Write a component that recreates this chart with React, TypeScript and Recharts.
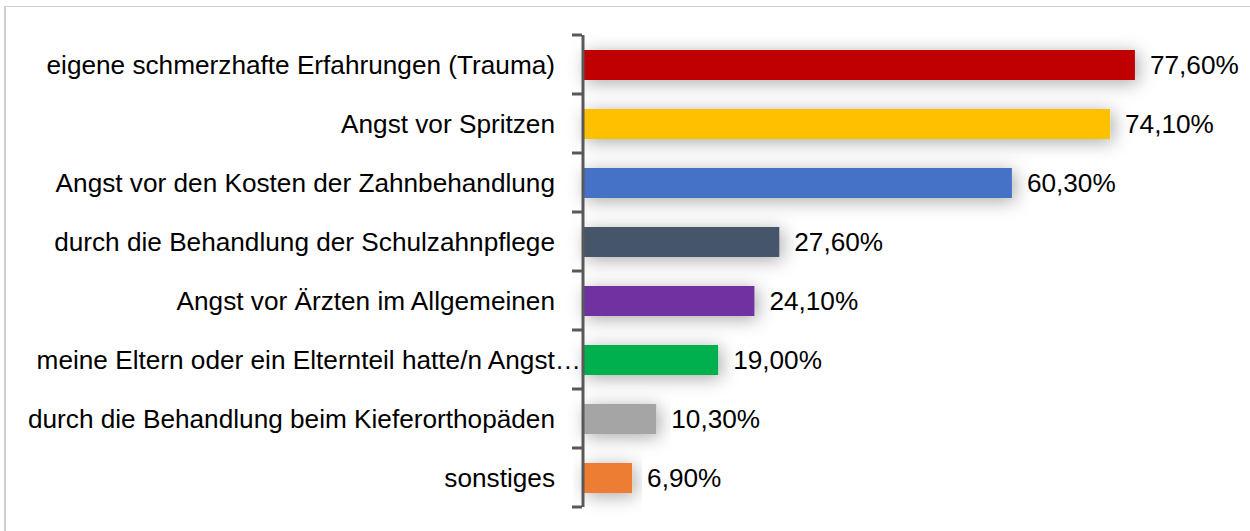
import React from 'react';
import { BarChart, Bar, XAxis, YAxis, Cell, LabelList } from 'recharts';

const categories = [
  'eigene schmerzhafte Erfahrungen (Trauma)',
  'Angst vor Spritzen',
  'Angst vor den Kosten der Zahnbehandlung',
  'durch die Behandlung der Schulzahnpflege',
  'Angst vor Ärzten im Allgemeinen',
  'meine Eltern oder ein Elternteil hatte/n Angst…',
  'durch die Behandlung beim Kieferorthopäden',
  'sonstiges',
];
const values = [77.6, 74.1, 60.3, 27.6, 24.1, 19.0, 10.3, 6.9];
const colors = ['#C00000', '#FFC000', '#4472C4', '#44546A', '#7030A0', '#00B050', '#A5A5A5', '#ED7D31'];
const truncatedLabel = 'meine Eltern oder ein Elternteil hatte/n Angst…';

const data = categories.map((c, i) => ({ name: c, value: values[i] }));

const FONT = '"Liberation Sans", Arial, sans-serif';
const AXIS = '#595959';
const FS = 26.2;

const fmt = (v: any) => Number(v).toFixed(2).replace('.', ',') + '%';

const CategoryTick = (props: any) => {
  const { x, y, payload, index, visibleTicksCount } = props;
  const half = payload && payload.offset ? payload.offset : 29.5;
  const isTrunc = payload.value === truncatedLabel;
  const ax = x;
  const isLast = index === (visibleTicksCount ? visibleTicksCount - 1 : categories.length - 1);
  return (
    <g>
      <line x1={ax} x2={ax + 10} y1={y - half} y2={y - half} stroke={AXIS} strokeWidth={3} />
      {isLast && <line x1={ax} x2={ax + 10} y1={y + half} y2={y + half} stroke={AXIS} strokeWidth={3} />}
      <text
        x={isTrunc ? ax + 9 : ax - 17}
        y={y}
        textAnchor="end"
        dominantBaseline="central"
        fontFamily={FONT}
        fontSize={FS}
        fill="#000"
      >
        {payload.value}
      </text>
    </g>
  );
};

export default function App() {
  return (
    <div style={{ position: 'absolute', left: 0, top: 0, width: 1250, height: 531, overflow: 'hidden', background: '#fff' }}>
      <div style={{ position: 'absolute', left: 4, top: 6, width: 1400, height: 700, borderLeft: '2px solid #cfcfcf', borderTop: '1px solid #cfcfcf' }} />
      <svg width={0} height={0} style={{ position: 'absolute' }}>
        <defs>
          <filter id="barShadow" x="-20%" y="-150%" width="140%" height="400%">
            <feDropShadow dx={3} dy={3} stdDeviation={9} floodColor="#000" floodOpacity={0.34} />
          </filter>
        </defs>
      </svg>
      <div style={{ position: 'absolute', left: 0, top: 0 }}>
        <BarChart
          width={1250}
          height={531}
          data={data}
          layout="vertical"
          margin={{ top: 35, right: 98, bottom: 24, left: 0 }}
          barSize={30}
        >
          <XAxis type="number" domain={[0, 80]} hide />
          <YAxis
            type="category"
            dataKey="name"
            width={583}
            tickLine={false}
            tickSize={9}
            axisLine={{ stroke: AXIS, strokeWidth: 3 }}
            tick={<CategoryTick />}
            interval={0}
          />
          <Bar dataKey="value" isAnimationActive={false}>
            {data.map((d, i) => (
              <Cell key={d.name} fill={colors[i]} filter="url(#barShadow)" />
            ))}
            <LabelList
              dataKey="value"
              position="right"
              offset={15}
              formatter={fmt}
              style={{ fontFamily: FONT, fontSize: FS, fill: '#000' }}
            />
          </Bar>
        </BarChart>
      </div>
    </div>
  );
}
